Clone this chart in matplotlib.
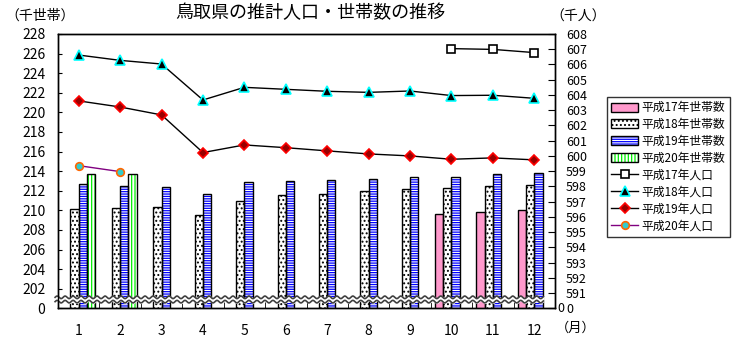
import numpy as np
import matplotlib
matplotlib.use("Agg")
import matplotlib.pyplot as plt
from matplotlib.patches import Patch
from matplotlib.lines import Line2D

plt.rcParams['font.family'] = ['Noto Sans CJK JP', 'DejaVu Sans']
plt.rcParams['hatch.linewidth'] = 0.9

nan = np.nan
months = np.arange(1, 13)

# 世帯数 (千世帯)
hh17 = [nan] * 9 + [209.62, 209.79, 209.99]
hh18 = [210.10, 210.20, 210.30, 209.48, 211.00, 211.52, 211.66, 211.93, 212.14, 212.24, 212.44, 212.58]
hh19 = [212.65, 212.44, 212.34, 211.66, 212.85, 212.95, 213.05, 213.16, 213.39, 213.39, 213.67, 213.77]
hh20 = [213.67, 213.67] + [nan] * 10

# 人口 (千人)
pop17 = [nan] * 9 + [607.04, 606.99, 606.78]
pop18 = [606.62, 606.27, 606.03, 603.67, 604.50, 604.37, 604.24, 604.17, 604.26, 603.96, 603.98, 603.78]
pop19 = [603.61, 603.21, 602.69, 600.22, 600.72, 600.54, 600.33, 600.13, 600.00, 599.78, 599.87, 599.74]
pop20 = [599.36, 598.97] + [nan] * 10

bar_names = ['平成17年世帯数', '平成18年世帯数', '平成19年世帯数', '平成20年世帯数']
line_names = ['平成17年人口', '平成18年人口', '平成19年人口', '平成20年人口']

fig = plt.figure(figsize=(7.36, 3.4), dpi=100)
ax = fig.add_axes([58 / 736, 1 - 308.3 / 340, 497 / 736, 274.3 / 340])
ax2 = ax.twinx()

w = 0.2
bar_styles = [
    dict(fc='#FF99CC', hc='#FF99CC', hatch=None),
    dict(fc='white', hc='black', hatch='....'),
    dict(fc='white', hc='#0000FF', hatch='-------'),
    dict(fc='white', hc='#00EE00', hatch='|||||'),
]
handles = []
for i, (vals, st) in enumerate(zip([hh17, hh18, hh19, hh20], bar_styles)):
    vals = np.array(vals, dtype=float)
    m = ~np.isnan(vals)
    xs = months[m] + (i - 1.5) * w
    ax.bar(xs, vals[m], width=w, color=st['fc'], edgecolor=st['hc'],
           hatch=st['hatch'], linewidth=0, zorder=2)
    ax.bar(xs, vals[m], width=w, facecolor='none', edgecolor='black',
           linewidth=1, zorder=3)
    h1 = Patch(facecolor=st['fc'], edgecolor=st['hc'], hatch=st['hatch'], linewidth=0)
    h2 = Patch(facecolor='none', edgecolor='black', linewidth=1)
    handles.append((h1, h2))

# 波線 (軸の省略)
xw = np.linspace(0.43, 12.22, 800)
ph = np.sin((xw - 0.43) / 0.193 * 2 * np.pi) * 0.13
c = 200.9
ax.fill_between(xw, c - 0.22 + ph, c + 0.22 + ph, color='white', zorder=5, clip_on=False)
ax.plot(xw, c + 0.22 + ph, color='#404040', lw=1.2, zorder=6, clip_on=False)
ax.plot(xw, c - 0.22 + ph, color='#404040', lw=1.2, zorder=6, clip_on=False)

line_styles = [
    dict(color='black', marker='s', mfc='white', mec='black', ms=6),
    dict(color='black', marker='^', mfc='black', mec='#00FFFF', ms=6.5),
    dict(color='black', marker='D', mfc='#990000', mec='#FF0000', ms=5),
    dict(color='#800080', marker='o', mfc='#33CCCC', mec='#FF6600', ms=5.5),
]
for vals, st in zip([pop17, pop18, pop19, pop20], line_styles):
    ax2.plot(months, vals, lw=1, mew=1.2, zorder=4, **st)
    handles.append(Line2D([], [], lw=1, mew=1.2, **st))

ax.set_xlim(0.5, 12.5)
ax.set_ylim(200, 228)
ax2.set_ylim(590, 608)

ax.set_xticks(months)
ax.set_xticks(np.arange(0.5, 13, 1), minor=True)
ax.tick_params(axis='x', which='major', length=0, pad=11, labelsize=10)
ax.tick_params(axis='x', which='minor', direction='in', length=4)

lt = np.arange(200, 229, 2)
ax.set_yticks(lt)
ax.set_yticklabels(['0'] + [str(v) for v in lt[1:]])
ax.tick_params(axis='y', direction='in', length=3, pad=9, labelsize=10)

rt = np.arange(590, 609, 1)
ax2.set_yticks(rt)
ax2.set_yticklabels(['0'] + [str(v) for v in rt[1:]])
ax2.tick_params(axis='y', direction='in', length=5, pad=8, labelsize=9)

for a in (ax, ax2):
    for s in a.spines.values():
        s.set_linewidth(1)

fig.text(310 / 736, 1 - 13 / 340, '鳥取県の推計人口・世帯数の推移', ha='center', va='center', fontsize=13)
fig.text(5 / 736, 1 - 16 / 340, '（千世帯）', ha='left', va='center', fontsize=10)
fig.text(550 / 736, 1 - 17 / 340, '（千人）', ha='left', va='center', fontsize=10)
fig.text(556 / 736, 1 - 328 / 340, '（月）', ha='left', va='center', fontsize=9.5)
fig.text(557 / 736, 1 - 308 / 340, '0', ha='left', va='center', fontsize=9)

leg = fig.legend(handles, bar_names + line_names, loc='upper left',
                 bbox_to_anchor=(607 / 736, 1 - 97 / 340), fontsize=8.5,
                 frameon=True, fancybox=False, edgecolor='black',
                 handlelength=2.3, handleheight=0.8, handletextpad=0.3,
                 labelspacing=0.33, borderpad=0.35, borderaxespad=0)
leg.get_frame().set_linewidth(1)

fig.savefig('out.png', dpi=100)
